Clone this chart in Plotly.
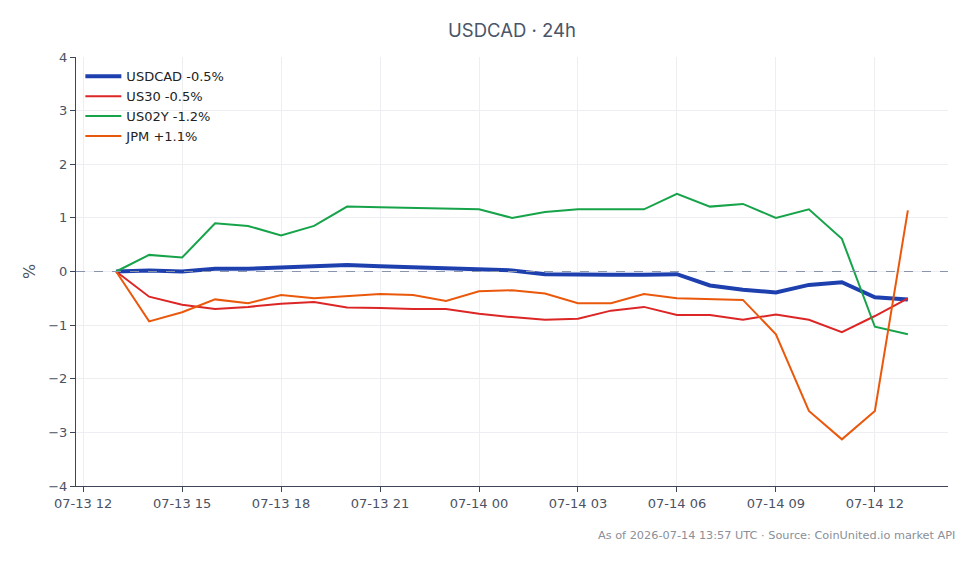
import plotly.graph_objects as go
import pandas as pd

times = pd.date_range("2026-07-13 13:00", "2026-07-14 13:00", freq="h")

usdcad = [0, 0.02, 0.0, 0.05, 0.05, 0.07, 0.10, 0.12, 0.10, 0.08, 0.06, 0.05, 0.02,
          -0.05, -0.06, -0.06, -0.06, -0.05, -0.26, -0.34, -0.39, -0.25, -0.20, -0.48, -0.52]
us30 = [0, -0.47, -0.62, -0.70, -0.66, -0.60, -0.57, -0.67, -0.68, -0.70, -0.70, -0.79, -0.85,
        -0.90, -0.88, -0.73, -0.66, -0.81, -0.81, -0.90, -0.80, -0.90, -1.13, -0.83, -0.50]
us02y = [0, 0.31, 0.26, 0.90, 0.85, 0.67, 0.85, 1.21, 1.20, 1.19, 1.17, 1.16, 1.00,
         1.11, 1.16, 1.16, 1.16, 1.45, 1.21, 1.26, 1.00, 1.16, 0.61, -1.03, -1.17]
jpm = [0, -0.93, -0.76, -0.52, -0.59, -0.44, -0.50, -0.46, -0.42, -0.44, -0.55, -0.37, -0.35,
       -0.41, -0.59, -0.59, -0.42, -0.50, -0.52, -0.53, -1.17, -2.60, -3.13, -2.60, 1.14]

names = ["USDCAD -0.5%", "US30 -0.5%", "US02Y -1.2%", "JPM +1.1%"]
colors = ["#1e40af", "#dc2626", "#16a34a", "#ea580c"]
widths = [4, 2, 2, 2]
series = [usdcad, us30, us02y, jpm]

fig = go.Figure()
for n, c, w, s in zip(names, colors, widths, series):
    fig.add_trace(go.Scatter(x=times, y=s, mode="lines", name=n,
                             line=dict(color=c, width=w)))

fig.add_hline(y=0, line=dict(color="#8a94ad", width=1, dash="dash"))

fig.update_layout(
    width=980, height=564,
    margin=dict(l=76, r=32, t=57, b=78),
    paper_bgcolor="white", plot_bgcolor="white",
    font=dict(family="DejaVu Sans", size=13, color="#4a5263"),
    title=dict(text="USDCAD · 24h", x=0.5, xref="paper", y=0.945, yanchor="middle",
               font=dict(family="Inter", size=18.5, color="#4a5568")),
    legend=dict(x=0.005, y=0.99, xanchor="left", yanchor="top",
                bgcolor="rgba(0,0,0,0)", font=dict(size=13, color="#222222"),
                itemwidth=36, tracegroupgap=4),
    showlegend=True,
)
fig.update_xaxes(
    range=["2026-07-13 11:47", "2026-07-14 14:13"],
    tickformat="%m-%d %H", dtick=3 * 3600 * 1000, tick0="2026-07-13 12:00",
    showline=True, linecolor="#3d4557", linewidth=1,
    ticks="outside", ticklen=5, tickcolor="#3d4557",
    showgrid=True, gridcolor="#eceef2", zeroline=False,
)
fig.update_yaxes(
    range=[-4, 4], dtick=1,
    title=dict(text="%", standoff=8),
    showline=True, linecolor="#3d4557", linewidth=1,
    ticks="outside", ticklen=5, tickcolor="#3d4557",
    showgrid=True, gridcolor="#eceef2", zeroline=False,
)
fig.add_annotation(text="As of 2026-07-14 13:57 UTC · Source: CoinUnited.io market API",
                   xref="paper", yref="paper", x=1.01, y=-0.115,
                   xanchor="right", yanchor="middle", showarrow=False,
                   font=dict(size=11.3, color="#8a8f99"))

fig.write_html("out.html")
